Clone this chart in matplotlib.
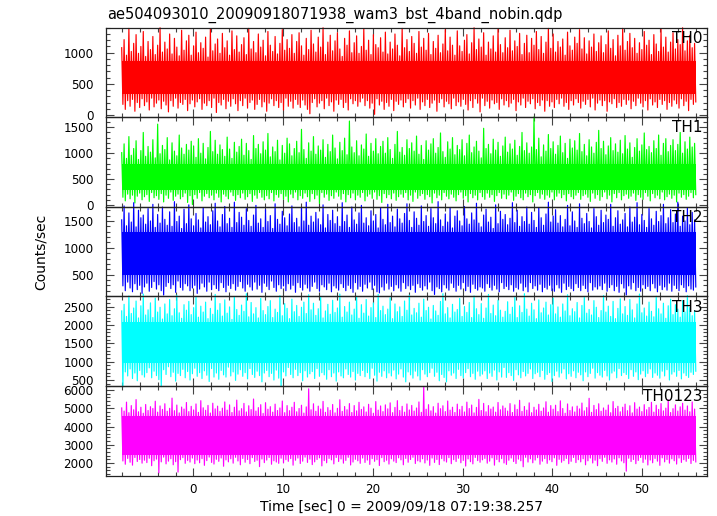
import numpy as np
import matplotlib
matplotlib.use('Agg')
import matplotlib.pyplot as plt
from matplotlib.ticker import MultipleLocator

plt.rcParams['font.family'] = ['DejaVu Sans']

title = "ae504093010_20090918071938_wam3_bst_4band_nobin.qdp"
xlabel = "Time [sec] 0 = 2009/09/18 07:19:38.257"
ylabel = "Counts/sec"
t_start, t_end = -8.0, 56.0

band_names = ["TH0", "TH1", "TH2", "TH3", "TH0123"]

# light-curve samples: alternating local maxima / minima
th0 = [1080,170,1210,90,960,230,1390,140,1020,250,1150,60,1290,200,990,120,1100,260,1340,150,
       940,210,1180,80,1050,270,1260,130,970,190,1120,240,1400,100,1010,220,1170,160,1060,50,
       1300,230,980,140,1230,270,1090,110,950,200,1360,170,1040,250,1190,70,1280,180,960,240,
       1110,130,1330,210,1000,260,1160,90,1070,190,1250,150,930,230,1380,120,1030,270,1140,40,
       1220,200,990,160,1310,250,1080,100,1190,220,960,140,1350,260,1050,180,1270,70,1010,230,
       1130,150,1240,270,970,110,1390,200,1060,240,1180,90,1000,170,1300,250,1090,130,1200,210,
       950,60,1340,190,1120,260,1020,150,1260,230,980,120,1150,200,1370,80,1040,270,1210,140,
       1070,220,1290,110,990,250,1180,170,1320,120,1110,240,960,160,1230,90,1050,20,1360,200,
       1140,260,1010,130,1250,190,1090,230,1400,100,970,270,1170,150,1280,210,1030,60,1190,240,
       1320,170,1060,250,940,120,1230,200,1120,80,1350,260,1000,180,1160,230,1270,140,990,210,
       1100,270,1380,150,1040,230,1200,110,970,190,1290,10,1130,260,1080,160,1240,220,1010,90,
       1330,200,980,140,1170,250,1060,70,1300,220,1120,170,950,240,1390,130,1080,200,1210,260,
       1020,110,1260,230,1150,160,990,270,1340,90,1090,210,1230,150,1040,250,1310,120,970,190,
       1180,240,1070,60,1280,200,1000,260,1140,130,1370,220,1030,180,1250,100,1120,270,960,150,
       1350,210,1110,140,1020,250,1200,170,1290,80,980,230,1160,120,1400,260,1050,190,1220,50,
       1090,270,1320,150,960,220,1170,110,1060,240,1270,180,1010,200,1380,90,1130,260,1000,160,
       1240,230,1080,130,1360,190,1030,250,1190,70,1100,210,1310,160,970,270,1150,120,1280,220,
       1000,180,1230,260,1120,100,1340,200,1050,150,1260,240,990,60,1170,230,1390,140,1070,210,
       1300,120,1010,250,1180,180,1090,270,1220,140,960,200,1330,90,1110,230,1040,160,1250,260,
       1150,200,1370,110,1060,220,1240,170,980,250,1190,130,1090,270,1300,80,1020,190,1160,240,
       1270,150,1000,230,1130,60,1350,210,1070,180,1210,260,950,120,1280,200,1110,140,1390,250,
       1040,170,1180,240,1310,100,1080,220,1230,150,990,270,1160,190,1050,130,1340,230,1120,80,
       1200,260,970,160,1290,210,1140,120,1020,250,1380,170,1090,230,1250,90,1010,200,1170,140,
       1320,240,1060,180,1210,110,1130,260,1400,150,1030,220,1190,70,1280,250,1080,170,1150,210]

th1 = [1010,150,1180,80,900,210,1320,120,960,190,1090,40,1240,170,880,230,1050,100,1400,160,
       940,200,1130,70,1020,240,1260,140,910,180,1560,110,990,220,1150,60,1070,190,1300,130,
       870,250,1200,90,1040,170,950,210,1350,120,1100,160,980,230,1170,50,1060,180,1230,10,
       1140,200,920,130,1280,240,1000,80,1190,170,890,220,1110,140,1420,190,1030,100,1250,230,
       980,150,1160,60,1070,210,940,170,1310,120,1080,250,900,180,1210,90,1020,200,1130,140,
       1270,230,960,110,1190,160,1050,220,880,70,1340,190,1090,130,1170,240,990,150,1220,100,
       1060,180,1380,120,930,240,1120,80,1030,200,1250,150,870,220,1150,110,1000,170,1290,60,
       1180,210,950,140,1090,250,1230,100,1010,180,1460,130,1070,230,900,160,1200,70,1040,220,
       1320,120,980,190,1140,30,1060,240,1260,150,920,210,1170,90,1030,180,1350,130,1100,250,
       890,170,1210,110,1050,220,1290,60,970,200,1620,140,1120,230,1010,100,1240,190,950,150,
       1160,240,1080,80,1370,170,940,210,1190,130,1040,250,1280,110,990,180,1130,50,1230,220,
       1000,140,1300,200,1070,120,900,230,1170,90,1420,160,1020,210,1110,150,960,240,1260,100,
       1090,190,1200,70,1040,250,1330,130,980,180,1150,220,880,110,1240,200,1060,160,1180,40,
       1280,230,1000,140,1110,190,1390,100,1030,240,920,170,1220,120,1080,210,1300,150,970,80,
       1150,200,1070,250,1260,130,950,180,1190,60,1350,220,1010,140,1120,190,1230,100,1040,240,
       910,160,1480,110,1090,230,1170,150,990,200,1270,70,1060,180,1210,240,940,130,1140,210,
       1310,120,1020,190,1180,250,1080,90,1250,170,960,220,1130,140,1400,100,1050,230,1200,160,
       1000,200,1120,60,1700,180,1070,240,1290,130,930,210,1160,110,1040,190,1360,150,1090,250,
       1220,100,980,170,1150,230,1330,140,1010,200,1190,80,900,220,1270,160,1100,120,1240,190,
       1060,240,1380,110,1030,180,1170,210,950,150,1260,70,1120,230,1000,130,1210,200,1440,90,
       1090,160,1230,250,970,120,1140,190,1300,60,1050,220,1180,140,1020,240,1250,100,990,180,
       1340,210,1080,130,1200,170,920,230,1110,90,1280,200,1040,150,1160,110,1390,240,1070,170,
       1130,80,1010,220,1240,140,1090,190,1350,120,960,250,1190,100,1280,160,1030,210,1150,130,
       1260,190,1050,60,1170,230,1400,150,1000,200,1220,110,1080,170,1310,240,1120,140,1190,200]

th2 = [1520,290,1780,200,1410,360,1650,250,1480,180,1840,330,1390,220,1700,300,1560,150,1610,270,
       1440,340,1730,190,1500,260,1810,370,1380,230,1620,310,1460,200,1760,120,1530,280,1420,350,
       1670,240,1400,310,1860,170,1490,380,1590,260,1360,210,1720,330,1450,290,1800,200,1540,250,
       1410,300,1640,150,1520,230,1370,340,1750,270,1480,190,1580,360,1430,220,1690,310,1830,240,
       1500,200,1390,350,1620,260,1770,180,1450,300,1550,240,1380,330,1850,210,1470,280,1660,370,
       1570,250,1420,190,1730,320,1510,270,1400,210,1610,360,1790,230,1460,300,1540,170,1380,340,
       1710,280,1490,220,1600,380,1360,260,1820,190,1530,310,1440,240,1680,290,1560,200,1410,330,
       1630,230,1780,300,1470,170,1550,350,1390,260,1740,210,1500,320,1850,250,1420,190,1590,280,
       1480,360,1660,240,1540,190,1430,310,1800,270,1370,220,1620,340,1510,180,1700,290,1450,250,
       1580,210,1400,330,1840,260,1490,200,1610,300,1380,240,1760,170,1520,350,1440,230,1650,280,
       1790,190,1460,320,1560,250,1410,360,1690,220,1500,300,1620,180,1370,160,1750,270,1530,210,
       1430,340,1810,230,1470,280,1590,200,1390,310,1720,250,1540,190,1460,350,1640,240,1820,290,
       1510,220,1380,300,1670,170,1550,330,1420,260,1780,210,1490,290,1600,230,1400,360,1730,200,
       1560,130,1450,270,1860,240,1520,180,1400,310,1630,250,1480,210,1740,340,1370,260,1590,190,
       1690,300,1500,230,1410,350,1770,200,1540,280,1440,170,1650,320,1520,240,1830,210,1460,270,
       1390,250,1610,190,1720,330,1480,260,1570,210,1360,300,1800,230,1450,180,1680,350,1530,240,
       1620,280,1430,220,1550,310,1840,190,1470,260,1700,230,1400,340,1580,200,1490,270,1760,180,
       1440,350,1660,240,1510,290,1380,210,1750,320,1560,180,1420,260,1630,230,1850,300,1480,200,
       1590,190,1710,310,1460,250,1600,170,1390,340,1530,220,1790,280,1410,240,1670,200,1500,330,
       1380,260,1820,200,1550,300,1450,240,1640,180,1490,350,1370,210,1730,270,1580,230,1420,290,
       1700,220,1470,340,1610,190,1530,260,1810,310,1400,200,1560,280,1690,170,1440,330,1520,250,
       1640,120,1390,290,1760,230,1480,350,1570,200,1840,260,1430,190,1620,310,1510,240,1380,280,
       1730,200,1540,330,1420,250,1680,180,1490,300,1600,220,1810,270,1450,210,1560,340,1710,190,
       1470,300,1630,240,1850,200,1400,310,1590,260,1500,180,1740,290,1430,230,1660,210,1520,270]

th3 = [2380,310,2560,720,2230,610,2790,800,2310,540,2460,690,2650,480,2190,760,2520,640,2840,580,
       2270,700,2410,830,2600,560,2200,740,2730,620,2350,510,2480,320,2160,780,2570,650,2300,860,
       2690,590,2250,710,2440,470,2810,680,2330,620,2180,790,2550,560,2400,730,2640,500,2280,670,
       2470,820,2760,600,2210,700,2510,540,2350,750,2620,630,2170,460,2450,810,2290,580,2830,690,
       2400,520,2580,760,2240,640,2680,580,2320,850,2490,610,2150,720,2770,490,2420,660,2260,780,
       2540,600,2370,700,2850,530,2220,810,2610,650,2300,570,2470,740,2190,620,2720,450,2390,690,
       2280,760,2500,590,2660,680,2200,500,2430,770,2340,550,2800,330,2250,720,2580,610,2450,840,
       2170,650,2700,560,2360,790,2530,620,2230,700,2480,480,2620,750,2310,580,2820,670,2410,730,
       2590,540,2260,810,2440,600,2750,700,2190,640,2380,520,2560,780,2290,590,2670,690,2340,470,
       2460,720,2840,610,2210,560,2500,800,2350,650,2620,580,2270,730,2430,500,2780,680,2180,620,
       2550,760,2320,590,2690,700,2240,540,2470,820,2600,630,2200,470,2830,710,2390,600,2510,750,
       2280,560,2430,690,2740,610,2170,770,2570,530,2360,660,2490,800,2230,580,2650,450,2400,720,
       2810,640,2270,550,2450,740,2330,610,2590,500,2210,780,2700,660,2390,590,2480,700,2160,820,
       2530,600,2380,710,2260,480,2640,650,2850,570,2300,450,2470,750,2190,630,2560,690,2350,540,
       2420,790,2720,620,2230,560,2500,700,2340,810,2610,590,2200,680,2790,520,2440,740,2280,610,
       2580,660,2180,750,2460,540,2830,690,2310,600,2540,770,2250,500,2670,720,2400,580,2210,840,
       2370,570,2630,700,2290,620,2480,490,2760,780,2200,640,2520,560,2340,730,2850,610,2430,680,
       2240,800,2590,540,2410,670,2170,710,2680,590,2330,760,2460,520,2620,650,2270,700,2550,460,
       2730,620,2300,740,2490,580,2210,690,2570,800,2380,530,2820,670,2250,600,2440,750,2360,560,
       2610,710,2190,640,2530,480,2750,720,2320,590,2420,680,2270,820,2660,550,2480,700,2200,630,
       2390,580,2800,760,2350,610,2510,500,2230,690,2640,740,2170,560,2450,810,2710,620,2300,700,
       2500,650,2260,540,2690,780,2410,600,2190,720,2570,510,2840,660,2330,750,2460,590,2240,680,
       2620,800,2370,570,2220,690,2780,630,2440,550,2300,740,2590,610,2180,780,2520,500,2700,660,
       2280,720,2550,600,2430,760,2210,530,2660,690,2350,620,2800,570,2470,710,2250,650,2390,740]

th0123 = [5020,2110,4850,1930,5340,2250,4760,2040,5150,1880,4920,2300,5480,2080,4810,2190,5060,1990,4730,2150,
          5210,2020,4880,2260,5090,1850,4990,2120,5390,2210,4790,1460,5130,2060,4940,2320,5250,1950,4840,2100,
          5000,2230,5560,1900,4870,2070,5180,1500,4750,2180,5070,2290,4960,1980,5320,2140,4820,2050,5110,2270,
          4910,1960,5240,2160,4780,2010,5420,2240,5030,1870,4890,2130,5160,2320,4740,2030,5280,1940,4970,2200,
          5120,2090,4830,2270,5010,1820,5350,2170,4900,2060,5190,2230,4770,1990,5060,2310,5450,2110,4860,1900,
          4980,2250,5270,2040,4800,2190,5140,1960,4930,2290,5510,2080,4850,2150,5040,1800,5200,2220,4720,2020,
          5310,2160,4950,2300,5090,1930,4790,2120,5230,2050,4880,1980,5020,2260,5400,2000,4760,2180,5150,2090,
          4870,2240,5060,1880,5330,2150,4810,2270,4990,1970,5170,2100,4740,2320,5080,2030,6070,2210,4920,1910,
          5250,2060,4840,2190,5120,2280,4960,1840,5380,2130,4780,2010,5040,2250,4890,2170,5210,1950,4750,2300,
          5000,2080,5470,2220,4830,1990,5100,2140,4920,2310,5260,1890,4770,2050,5150,2200,4860,2120,5330,1980,
          4940,2270,5080,2030,4800,2160,5220,1920,5010,2240,4730,2090,5370,2180,4900,1860,5130,2290,4820,2070,
          5190,2150,4970,1940,5300,2230,4760,2100,5050,2020,5420,2280,4880,2170,5110,1900,4790,2250,5240,2040,
          4910,2190,5160,2310,4850,1970,5020,2120,5350,2060,4780,2230,6170,2000,4950,2160,5200,1870,4860,2270,
          5090,2030,4740,2190,5280,1910,4980,2240,5140,2110,4820,2050,5400,2290,4900,1960,5060,2180,4770,2080,
          5230,2260,4930,2010,5110,2140,4800,1830,5340,2220,4990,2070,5180,1950,4750,2300,5050,2130,5490,2040,
          4880,2170,5270,2250,4810,1990,5150,2100,4960,2280,5070,1880,4790,2190,5320,2060,4920,2240,5130,2000,
          5010,1920,4850,2150,5260,2270,4770,2080,5190,1970,4940,2210,5440,2120,4830,1790,5100,2310,4900,2050,
          5300,2230,4760,2010,5060,2160,4910,2290,5220,1930,4840,2100,5020,2240,5360,1980,4790,2170,5150,2070,
          4950,2280,5170,1870,4820,2200,5410,2040,4990,2130,4730,2250,5240,1960,4880,2090,5080,2300,4800,2020,
          5120,2180,4970,2060,5290,2230,4860,1900,5040,2120,5550,2270,4780,2000,5160,2150,4930,1850,5250,2240,
          4840,2090,5020,2310,4900,1980,5180,2170,4760,2050,5370,2220,4990,1930,5110,2280,4810,2110,5060,2010,
          5230,1550,4870,2260,5140,2080,4750,2190,5310,1960,4960,2140,5070,2300,4820,2030,5200,2210,4920,1890,
          5050,2160,5330,2010,4790,2250,5170,2100,4940,1870,5260,2280,4860,2060,5010,2190,5460,1990,4770,2230,
          4980,2120,5190,1940,4850,2270,5080,2030,5280,2180,4900,2090,5130,2250,4810,1970,5350,2140,4960,2060]

# extent of the saturated core of each band
core_low = [330, 290, 490, 960, 2460]
core_high = [860, 800, 1300, 2080, 4600]

series = [th0, th1, th2, th3, th0123]
colors = ["#ff0000", "#00ff00", "#0000ff", "#00ffff", "#ff00ff"]
ylims = [(-37, 1401), (-36, 1692), (92, 1762), (334, 2773), (1301, 6220)]
ymajor = [500, 500, 500, 500, 1000]
yminor = [100, 100, 100, 100, 200]

W, H = 717, 516
fig = plt.figure(figsize=(W / 100, H / 100), dpi=100)
fig.patch.set_facecolor("white")

left_px, right_px = 106, 707
top_px, panel_h = 27.7, 89.6

for i, (y, c) in enumerate(zip(series, colors)):
    bottom = 1 - (top_px + panel_h * (i + 1)) / H
    ax = fig.add_axes([left_px / W, bottom, (right_px - left_px) / W, panel_h / H])
    ax.set_facecolor("none")
    x = np.linspace(t_start, t_end, len(y))
    ax.fill_between([t_start, t_end], [core_low[i]] * 2, [core_high[i]] * 2,
                    facecolor=c, lw=0, zorder=1.8)
    ax.plot(x, y, color=c, lw=0.85, clip_on=False, zorder=2)
    ax.set_xlim(-9.75, 57.25)
    ax.set_ylim(*ylims[i])
    ax.xaxis.set_major_locator(MultipleLocator(10))
    ax.xaxis.set_minor_locator(MultipleLocator(2))
    ax.yaxis.set_major_locator(MultipleLocator(ymajor[i]))
    ax.yaxis.set_minor_locator(MultipleLocator(yminor[i]))
    ax.tick_params(which="both", direction="in", top=True, right=True,
                   color="#444444", width=0.8, labelsize=8.6)
    ax.tick_params(which="major", length=5.5)
    ax.tick_params(which="minor", length=2.8)
    ax.tick_params(axis="y", pad=9)
    ax.tick_params(axis="x", pad=5)
    for sp in ax.spines.values():
        sp.set_linewidth(0.9)
        sp.set_color("#222222")
        sp.set_zorder(3)
    if i < 4:
        ax.tick_params(labelbottom=False)
    ax.text(0.993, 0.965, band_names[i], transform=ax.transAxes,
            ha="right", va="top", fontsize=11, zorder=5)

fig.text(107 / W, 1 - 15 / H, title, ha="left", va="center", fontsize=10.5)
fig.text(41 / W, 1 - 252 / H, ylabel, rotation=90, ha="center", va="center", fontsize=10)
fig.text(401 / W, 1 - 507 / H, xlabel, ha="center", va="center", fontsize=10)

fig.savefig("out.png", dpi=100, facecolor="white")
